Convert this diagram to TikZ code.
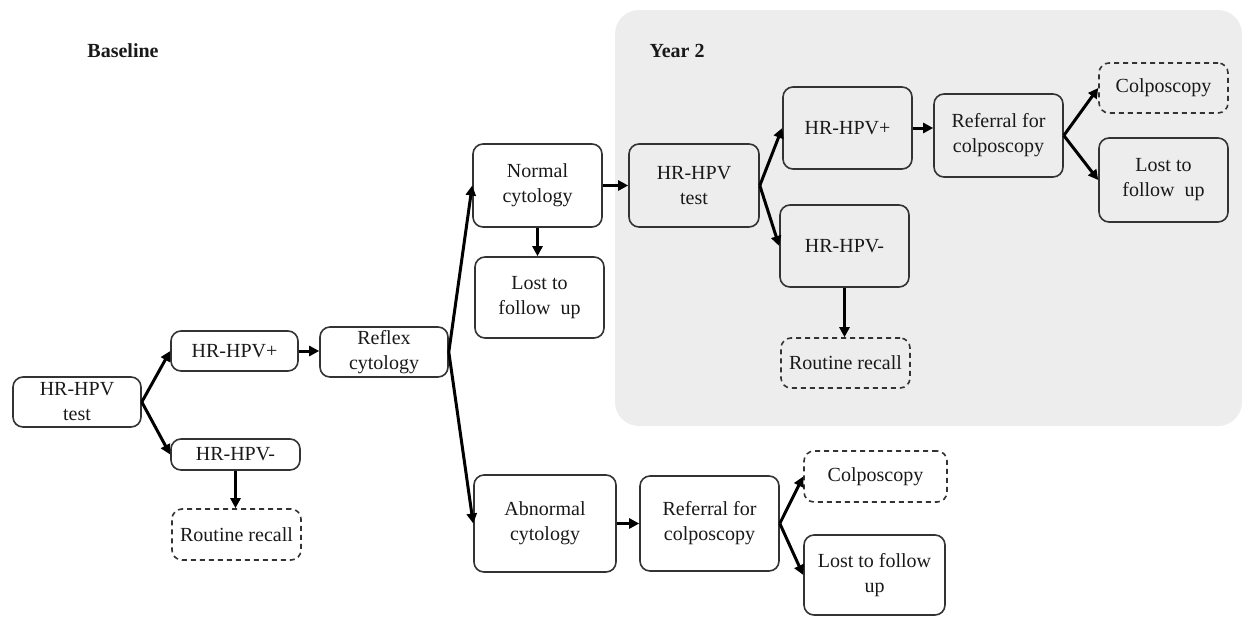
\documentclass[tikz,border=0pt]{standalone}
\usepackage{fontspec}
\setmainfont{Liberation Serif}
\usetikzlibrary{arrows.meta}
\begin{document}
\begin{tikzpicture}[x=0.5pt,y=-0.5pt,
  box/.style={draw=black!80, line width=0.8pt, rounded corners=5pt, align=center,
    inner sep=0pt, font=\fontsize{10}{12.5}\selectfont, text=black!90},
  dbox/.style={box, dash pattern=on 2.5pt off 2pt},
  arr/.style={line width=1.5pt, -{Triangle[length=5pt,width=5pt]}},
  lbl/.style={font=\fontsize{10}{12}\selectfont\bfseries, text=black!90}]
\useasboundingbox (0,0) rectangle (1251,616);
\fill[black!7] (615,10) [rounded corners=12pt] rectangle (1242,426);
\node[lbl] (base) at (123,51) {Baseline};
\node[lbl] (yr2) at (677,51) {Year 2};
% baseline
\node[box, minimum width=64pt, minimum height=25pt] (t0) at (77,402) {HR-HPV\\test};
\node[box, minimum width=63.5pt, minimum height=20pt] (p0) at (234.5,351) {HR-HPV+};
\node[box, minimum width=64.5pt, minimum height=15.5pt] (n0) at (235.5,454.5) {HR-HPV-};
\node[dbox, minimum width=64.5pt, minimum height=25.5pt] (r0) at (236.5,534.5) {Routine recall};
\node[box, minimum width=64pt, minimum height=25pt] (rc) at (384,352) {Reflex\\cytology};
\node[box, minimum width=64.5pt, minimum height=41.5pt] (nc) at (537.5,185.5) {Normal\\cytology};
\node[box, minimum width=64.5pt, minimum height=40.5pt] (lf1) at (539.5,297.5) {Lost to\\follow\ \ up};
% year 2
\node[box, minimum width=65pt, minimum height=41.5pt] (t2) at (694,185.5) {HR-HPV\\test};
\node[box, minimum width=64.5pt, minimum height=41pt] (p2) at (847.5,128) {HR-HPV+};
\node[box, minimum width=64.5pt, minimum height=41pt] (n2) at (844.5,246) {HR-HPV-};
\node[dbox, minimum width=64.5pt, minimum height=25pt] (r2) at (845.5,363) {Routine recall};
\node[box, minimum width=64.5pt, minimum height=41.5pt] (ref2) at (998.5,135.5) {Referral for\\colposcopy};
\node[dbox, minimum width=64.5pt, minimum height=25pt] (col2) at (1163.5,88) {Colposcopy};
\node[box, minimum width=64.5pt, minimum height=42pt] (lf2) at (1163.5,180) {Lost to\\follow\ \ up};
% abnormal branch
\node[box, minimum width=71pt, minimum height=48.5pt] (ab) at (545,523.5) {Abnormal\\cytology};
\node[box, minimum width=69.5pt, minimum height=47.5pt] (ref0) at (709.5,523.5) {Referral for\\colposcopy};
\node[dbox, minimum width=71.5pt, minimum height=25.5pt] (col0) at (875.5,476.5) {Colposcopy};
\node[box, minimum width=70.5pt, minimum height=40pt] (lf0) at (874.5,575) {Lost to follow\\up};
% arrows
\draw[arr] (t0.east) -- (p0.west);
\draw[arr] (t0.east) -- (n0.west);
\draw[arr] (n0.south) -- (n0.south |- r0.north);
\draw[arr] (p0.east) -- (p0.east -| rc.west);
\draw[arr] (rc.east) -- (nc.west);
\draw[arr] (rc.east) -- (ab.west);
\draw[arr] (nc.south) -- (nc.south |- lf1.north);
\draw[arr] (nc.east) -- (t2.west);
\draw[arr] (t2.east) -- (p2.west);
\draw[arr] (t2.east) -- (n2.west);
\draw[arr] (n2.south) -- (n2.south |- r2.north);
\draw[arr] (p2.east) -- (p2.east -| ref2.west);
\draw[arr] (ref2.east) -- (col2.west);
\draw[arr] (ref2.east) -- (lf2.west);
\draw[arr] (ab.east) -- (ref0.west);
\draw[arr] (ref0.east) -- (col0.west);
\draw[arr] (ref0.east) -- (lf0.west);
\end{tikzpicture}
\end{document}
